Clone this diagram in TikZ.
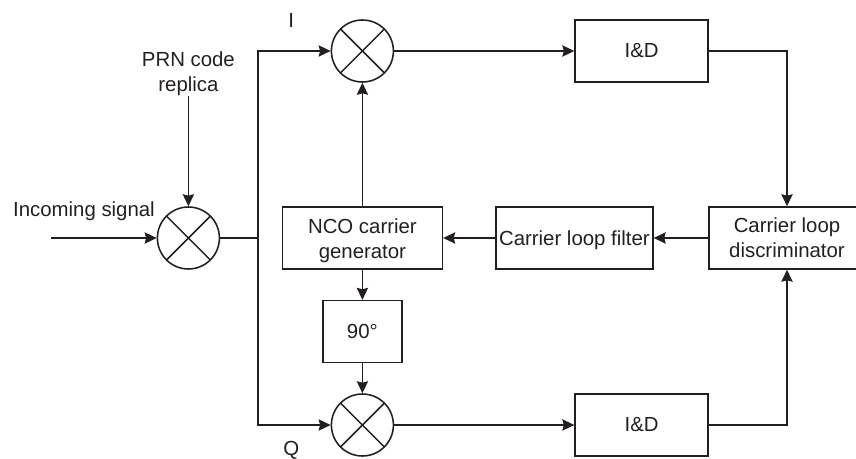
\documentclass[tikz,border=0pt]{standalone}
\usepackage{fontspec}
\setmainfont{Liberation Sans}
\usetikzlibrary{arrows.meta}
\definecolor{inkdark}{HTML}{231F20}

\begin{document}
\begin{tikzpicture}[
    every node/.style={text=inkdark, font=\fontsize{14.5}{17.5}\selectfont},
    box/.style={rectangle, draw=inkdark, line width=1.1pt, inner sep=0pt, minimum height=1.55cm, align=center},
    mixer/.style={circle, draw=inkdark, line width=1.1pt, inner sep=0pt, minimum size=1.55cm,
        path picture={
            \draw[inkdark, line width=1.1pt] (path picture bounding box.north west) -- (path picture bounding box.south east);
            \draw[inkdark, line width=1.1pt] (path picture bounding box.north east) -- (path picture bounding box.south west);
        }},
    label/.style={inner sep=0pt, align=center},
    arrow/.style={-{Stealth[length=8.5pt,width=8pt,inset=1pt]}, draw=inkdark, line width=1.1pt},
    wire/.style={draw=inkdark, line width=1.1pt}
]
    \useasboundingbox (0,0) rectangle (21.4,11.45);

    % Mixers
    \node[mixer] (mixin) at (4.71,5.5) {};
    \node[mixer] (mixi) at (9.06,10.175) {};
    \node[mixer] (mixq) at (9.06,0.825) {};

    % I and Q branches
    \node[box, minimum width=3.325cm] (idi) at (16.04,10.175) {I\&D};
    \node[box, minimum width=3.325cm] (idq) at (16.04,0.825) {I\&D};

    % Carrier loop
    \node[box, minimum width=3.9cm] (disc) at (19.675,5.5) {Carrier loop\\discriminator};
    \node[box, minimum width=3.925cm] (filter) at (14.36,5.5) {\rule{0pt}{13pt}Carrier loop filter};
    \node[box, minimum width=4cm] (nco) at (9.06,5.5) {\rule{0pt}{14.5pt}NCO carrier\\generator};
    \node[box, minimum width=1.975cm] (shift) at (9.06,3.16) {90°};

    % Labels
    \node[label] (prn) at (4.71,9.6) {PRN code\\replica};
    \node[label] (incoming) at (2.1,6.17) {Incoming signal};
    \node[label] (ilabel) at (7.28,10.95) {I};
    \node[label] (qlabel) at (7.28,0.2) {Q};

    % Free ends
    \coordinate (source) at (1.275,5.5);
    \coordinate (split) at (6.45,5.5);

    % Arrows
    \draw[arrow] (source) -- (mixin);
    \draw[arrow] (prn) -- (mixin);
    \draw[wire] (mixin) -- (split);
    \draw[arrow] (split) |- (mixi);
    \draw[arrow] (split) |- (mixq);
    \draw[arrow] (mixi) -- (idi);
    \draw[arrow] (mixq) -- (idq);
    \draw[arrow] (idi) -| (disc);
    \draw[arrow] (idq) -| (disc);
    \draw[arrow] (disc) -- (filter);
    \draw[arrow] (filter) -- (nco);
    \draw[arrow] (nco) -- (mixi);
    \draw[arrow] (nco) -- (shift);
    \draw[arrow] (shift) -- (mixq);
\end{tikzpicture}
\end{document}
